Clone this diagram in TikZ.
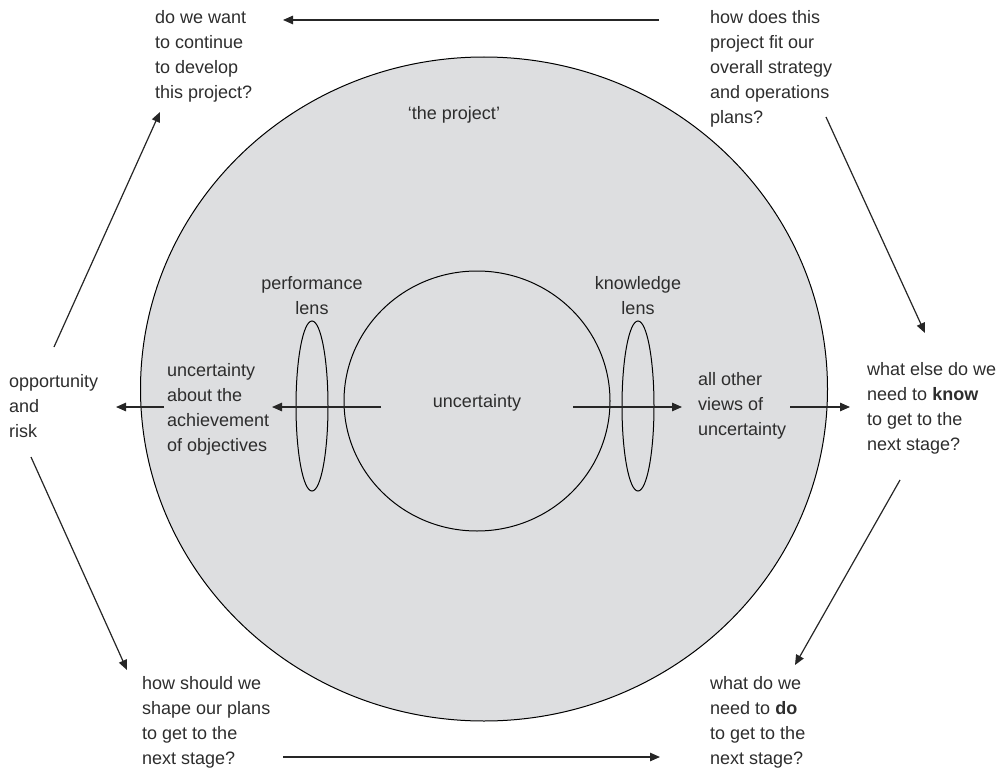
\documentclass[tikz,border=0pt]{standalone}
\usepackage{fontspec}
\setmainfont{Liberation Sans}
\usepackage{tikz}
\usetikzlibrary{arrows.meta,positioning,shapes.geometric}
\definecolor{projgray}{RGB}{221,222,224}
\definecolor{txtgray}{RGB}{45,45,45}
\tikzset{
    %Define standard arrow tip
    >={Triangle[length=10pt,width=8.5pt]},
    font=\fontsize{18}{25}\selectfont,
    %Define style for the question blocks
    frage/.style={
           align=left,
           inner sep=0pt,
           anchor=west,
           text=txtgray},
    mitte/.style={align=center,inner sep=0pt,text=txtgray},
    % Define arrow style
    pil/.style={
	   ->,
	   line width=1.2pt,
	   black!85},
    % Define shape styles
    projekt/.style={ellipse,fill=projgray,draw=black,line width=1pt,inner sep=0pt,minimum width=687pt,minimum height=664pt},
    kern/.style={ellipse,draw=black,line width=1pt,inner sep=0pt,minimum width=266pt,minimum height=260pt,text=txtgray},
    linse/.style={ellipse,draw=black,line width=1pt,inner sep=0pt,minimum width=32pt,minimum height=170pt}
}

\begin{document}
\begin{tikzpicture}[x=1pt,y=-1pt]
  \useasboundingbox (0,0) rectangle (999,773);
  \node[projekt] (proj) at (484,389) {};
  \node[mitte] (projtxt) at (454,115) {`the project'};
  \node[kern] (unc) at (477,401) {};
  \node[mitte] (unctxt) at (477,403) {uncertainty};
  \node[linse] (perf) at (312,406) {};
  \node[linse] (know) at (638,406) {};
  \node[mitte] (perftxt) [above=6pt of perf] {performance\\lens};
  \node[mitte] (knowtxt) [above=6pt of know] {knowledge\\lens};

  % questions round the circle
  \node[frage] (cont) at (155,56) {do we want\\to continue\\to develop\\this project?};
  \node[frage] (fit) at (710,69) {how does this\\project fit our\\overall strategy\\and operations\\plans?};
  \node[frage] (needk) at (867,408) {what else do we\\need to \textbf{know}\\to get to the\\next stage?};
  \node[frage] (needd) at (710,722) {what do we\\need to \textbf{do}\\to get to the\\next stage?};
  \node[frage] (shape) at (142,722) {how should we\\shape our plans\\to get to the\\next stage?};
  \node[frage] (oppo) at (9,406) {opportunity\\and\\risk};
  \node[frage] (achv) at (167,409) {uncertainty\\about the\\achievement\\of objectives};
  \node[frage] (other) at (698,406) {all other\\views of\\uncertainty};

  % arrow ends
  \coordinate (fit-w) at (659,20);
  \coordinate (cont-e) at (283,20);
  \coordinate (fit-s) at (826,117);
  \coordinate (needk-n) at (925,333);
  \coordinate (other-e) at (790,407);
  \coordinate (needk-w) at (850,407);
  \coordinate (needk-s) at (900,480);
  \coordinate (needd-n) at (795,665);
  \coordinate (shape-e) at (283,757);
  \coordinate (needd-w) at (660,757);
  \coordinate (oppo-s) at (31,457);
  \coordinate (shape-n) at (127,670);
  \coordinate (achv-w) at (164,407);
  \coordinate (oppo-e) at (116,407);
  \coordinate (oppo-n) at (54,347);
  \coordinate (cont-s) at (160,112);
  \coordinate (unc-w) at (381,407);
  \coordinate (achv-e) at (272,407);
  \coordinate (unc-e) at (573,407);
  \coordinate (other-w) at (682,407);

  \path[pil]
    (fit-w) edge (cont-e)
    (fit-s) edge (needk-n)
    (other-e) edge (needk-w)
    (needk-s) edge (needd-n)
    (shape-e) edge (needd-w)
    (oppo-s) edge (shape-n)
    (achv-w) edge (oppo-e)
    (oppo-n) edge (cont-s)
    (unc-w) edge (achv-e)
    (unc-e) edge (other-w);
\end{tikzpicture}
\end{document}
